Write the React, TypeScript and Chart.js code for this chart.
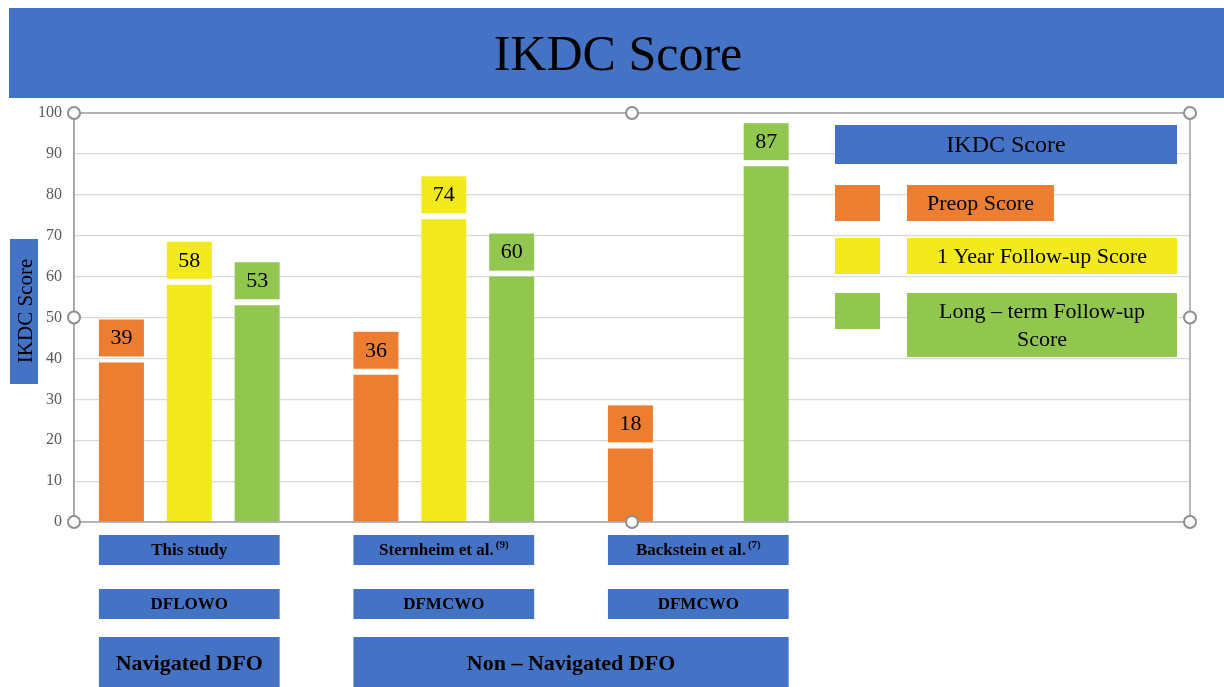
import React, { useEffect, useRef } from "react";
import { Chart, registerables } from "chart.js";

Chart.register(...registerables);

// ---- data ----
const groups = ["This study", "Sternheim et al.", "Backstein et al."];
const groupRefs = ["", "(9)", "(7)"];
const techniques = ["DFLOWO", "DFMCWO", "DFMCWO"];
const navLabels = ["Navigated DFO", "Non – Navigated DFO"];
const navFirstGroup = [0, 1];
const navLastGroup = [0, 2];
const seriesNames = ["Preop Score", "1 Year Follow-up Score", "Long – term Follow-up Score"];
const preop = [39, 36, 18];
const oneYear: (number | null)[] = [58, 74, null];
const longTerm = [53, 60, 87];
const chartTitle = "IKDC Score";
const yTitle = "IKDC Score";
const legendTitle = "IKDC Score";

// ---- styles ----
const BLUE = "#4472C4";
const COLORS = ["#ED7D31", "#F2EA1C", "#92C74F"];
const SERIF = "'Liberation Serif', 'DejaVu Serif', serif";

function wrapText(ctx: CanvasRenderingContext2D, text: string, maxW: number): string[] {
  const words = text.split(" ");
  const lines: string[] = [];
  let cur = "";
  for (const w of words) {
    const t = cur ? cur + " " + w : w;
    if (ctx.measureText(t).width > maxW && cur) {
      lines.push(cur);
      cur = w;
    } else cur = t;
  }
  if (cur) lines.push(cur);
  return lines;
}

const decorPlugin = {
  id: "decor",
  beforeDraw(chart: any) {
    const ctx: CanvasRenderingContext2D = chart.ctx;
    ctx.save();
    ctx.fillStyle = "#ffffff";
    ctx.fillRect(0, 0, chart.width, chart.height);
    // title banner
    ctx.fillStyle = BLUE;
    ctx.fillRect(9, 8, 1215, 90);
    ctx.fillStyle = "#000000";
    ctx.font = `50px ${SERIF}`;
    ctx.textAlign = "center";
    ctx.textBaseline = "middle";
    ctx.fillText(chartTitle, 618, 57);
    // y axis title
    ctx.fillStyle = BLUE;
    ctx.fillRect(10, 239, 28, 145);
    ctx.save();
    ctx.translate(25, 311);
    ctx.rotate(-Math.PI / 2);
    ctx.fillStyle = "#000000";
    ctx.font = `21px ${SERIF}`;
    ctx.fillText(yTitle, 0, 1);
    ctx.restore();
    ctx.restore();
  },
  afterDatasetsDraw(chart: any) {
    const ctx: CanvasRenderingContext2D = chart.ctx;
    const area = chart.chartArea;
    ctx.save();
    // frame
    ctx.strokeStyle = "#a3a3a3";
    ctx.lineWidth = 1.5;
    ctx.strokeRect(area.left, area.top, area.right - area.left, area.bottom - area.top);

    // value label boxes
    chart.data.datasets.forEach((ds: any, di: number) => {
      const meta = chart.getDatasetMeta(di);
      meta.data.forEach((bar: any, i: number) => {
        const v = ds.data[i].y;
        if (v === null || v === undefined) return;
        const w = bar.width;
        const top = bar.y - 6 - 37;
        ctx.fillStyle = COLORS[di];
        ctx.fillRect(bar.x - w / 2, top, w, 37);
        ctx.fillStyle = "#000000";
        ctx.font = `22px ${SERIF}`;
        ctx.textAlign = "center";
        ctx.textBaseline = "middle";
        ctx.fillText(String(v), bar.x, top + 19);
      });
    });

    // bottom category boxes
    const first = chart.getDatasetMeta(0).data;
    const last = chart.getDatasetMeta(chart.data.datasets.length - 1).data;
    const gx = (i: number) => [first[i].x - first[i].width / 2, last[i].x + last[i].width / 2];
    groups.forEach((g, i) => {
      const [x0, x1] = gx(i);
      ctx.fillStyle = BLUE;
      ctx.fillRect(x0, 535, x1 - x0, 30);
      ctx.fillRect(x0, 589, x1 - x0, 30);
      ctx.fillStyle = "#000000";
      ctx.textBaseline = "middle";
      ctx.textAlign = "left";
      ctx.font = `bold 17px ${SERIF}`;
      const mw = ctx.measureText(g).width;
      ctx.font = `bold 11px ${SERIF}`;
      const sw = groupRefs[i] ? ctx.measureText(groupRefs[i]).width + 2 : 0;
      const sx = (x0 + x1) / 2 - (mw + sw) / 2;
      ctx.font = `bold 17px ${SERIF}`;
      ctx.fillText(g, sx, 551);
      if (groupRefs[i]) {
        ctx.font = `bold 11px ${SERIF}`;
        ctx.fillText(groupRefs[i], sx + mw + 2, 545);
      }
      ctx.textAlign = "center";
      ctx.font = `bold 17px ${SERIF}`;
      ctx.fillText(techniques[i], (x0 + x1) / 2, 605);
    });
    navLabels.forEach((n, k) => {
      const x0 = gx(navFirstGroup[k])[0];
      const x1 = gx(navLastGroup[k])[1];
      ctx.fillStyle = BLUE;
      ctx.fillRect(x0, 637, x1 - x0, 55);
      ctx.fillStyle = "#000000";
      ctx.textAlign = "center";
      ctx.textBaseline = "middle";
      ctx.font = `bold 22px ${SERIF}`;
      ctx.fillText(n, (x0 + x1) / 2, 664);
    });

    // legend
    ctx.fillStyle = BLUE;
    ctx.fillRect(835, 125, 342, 39);
    ctx.fillStyle = "#000000";
    ctx.font = `24px ${SERIF}`;
    ctx.textAlign = "center";
    ctx.textBaseline = "middle";
    ctx.fillText(legendTitle, 1006, 146);
    const rowTops = [185, 238, 293];
    seriesNames.forEach((name, i) => {
      ctx.font = `22px ${SERIF}`;
      const lines = wrapText(ctx, name, 250);
      const h = lines.length > 1 ? 64 : 36;
      const tw = ctx.measureText(name).width;
      const bw = tw + 40 < 200 ? tw + 40 : 270;
      ctx.fillStyle = COLORS[i];
      ctx.fillRect(835, rowTops[i], 45, 36);
      ctx.fillRect(907, rowTops[i], bw, h);
      ctx.fillStyle = "#000000";
      lines.forEach((ln, li) => {
        ctx.fillText(ln, 907 + bw / 2, rowTops[i] + 19 + li * 28);
      });
    });
    ctx.restore();
  },
  afterDraw(chart: any) {
    const ctx: CanvasRenderingContext2D = chart.ctx;
    const a = chart.chartArea;
    const mx = (a.left + a.right) / 2;
    const my = (a.top + a.bottom) / 2;
    const pts = [
      [a.left, a.top], [mx, a.top], [a.right, a.top],
      [a.left, my], [a.right, my],
      [a.left, a.bottom], [mx, a.bottom], [a.right, a.bottom],
    ];
    ctx.save();
    ctx.lineWidth = 2;
    ctx.strokeStyle = "#8e8e8e";
    ctx.fillStyle = "#ffffff";
    pts.forEach(([x, y]) => {
      ctx.beginPath();
      ctx.arc(x, y, 6, 0, Math.PI * 2);
      ctx.fill();
      ctx.stroke();
    });
    ctx.restore();
  },
};

export default function App() {
  const ref = useRef<HTMLCanvasElement | null>(null);
  useEffect(() => {
    if (!ref.current) return;
    const toXY = (arr: (number | null)[]) => arr.map((v, i) => ({ x: i, y: v }));
    const chart = new Chart(ref.current, {
      type: "bar",
      data: {
        datasets: [
          { label: seriesNames[0], data: toXY(preop) as any, backgroundColor: COLORS[0] },
          { label: seriesNames[1], data: toXY(oneYear) as any, backgroundColor: COLORS[1] },
          { label: seriesNames[2], data: toXY(longTerm) as any, backgroundColor: COLORS[2] },
        ],
      },
      options: {
        animation: false,
        responsive: false,
        devicePixelRatio: 1,
        layout: { padding: { left: 0, top: 113, right: 34, bottom: 165 } },
        datasets: { bar: { categoryPercentage: 0.8, barPercentage: 0.663, borderWidth: 0 } } as any,
        plugins: { legend: { display: false }, tooltip: { enabled: false }, title: { display: false } },
        scales: {
          x: {
            type: "linear",
            min: -0.453,
            max: 3.932,
            offset: false,
            bounds: "data",
            display: false,
            grid: { display: false, offset: false },
            afterBuildTicks: (s: any) => {
              s.ticks = groups.map((_, i) => ({ value: i }));
            },
          },
          y: {
            min: 0,
            max: 100,
            ticks: {
              stepSize: 10,
              color: "#595959",
              padding: 12,
              font: { family: SERIF, size: 16 },
            },
            grid: { color: "#d9d9d9", lineWidth: 1.2, drawTicks: false },
            border: { color: "#a3a3a3", width: 1.5 },
            afterFit: (s: any) => {
              s.width = 74;
            },
          },
        },
      },
      plugins: [decorPlugin],
    });
    return () => chart.destroy();
  }, []);
  return (
    <div style={{ position: "absolute", left: 0, top: 0, width: 1224, height: 687 }}>
      <canvas ref={ref} width={1224} height={687} style={{ width: 1224, height: 687, display: "block" }} />
    </div>
  );
}
